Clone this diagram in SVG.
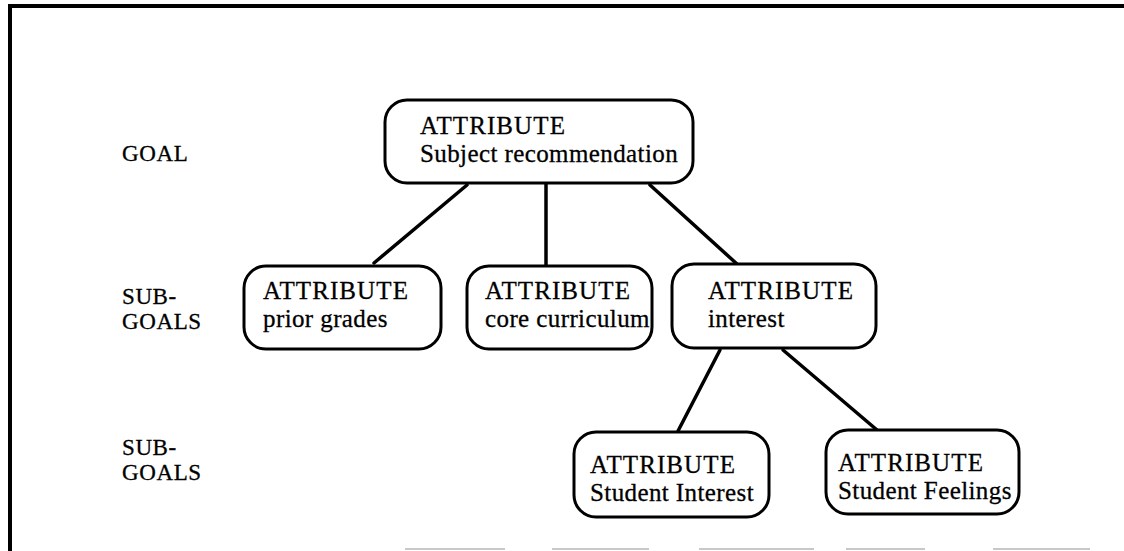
<svg xmlns="http://www.w3.org/2000/svg" width="1124" height="551" viewBox="0 0 1124 551">
<style>
.box{fill:#fff;stroke:#000;stroke-width:3}
.t{font-family:"Liberation Serif","Times New Roman",serif;font-size:25px;fill:#000;stroke:#000;stroke-width:0.3;letter-spacing:0.4px}
.a{letter-spacing:1.1px}
.lbl{font-family:"Liberation Serif","Times New Roman",serif;font-size:23px;fill:#000;stroke:#000;stroke-width:0.3;letter-spacing:0.6px}
.c{stroke:#000;stroke-width:3.5;fill:none;stroke-linecap:round}
.frame{stroke:#000;stroke-width:4;fill:none}
.faint{stroke:#c8c8c8;stroke-width:2;fill:none}
</style>
<rect width="1124" height="551" fill="#fff"/>
<g id="frame">
<path class="frame" d="M10,551 L10,6 L1124,6"/>
<path class="faint" d="M405,549 L505,549 M552,549 L649,549 M699,549 L814,549 M846,549 L925,549 M993,549 L1090,549"/>
</g>
<g id="level-labels">
<text class="lbl" x="122" y="161">GOAL</text>
<text class="lbl" x="122" y="304">SUB-</text>
<text class="lbl" x="122" y="329">GOALS</text>
<text class="lbl" x="122" y="455">SUB-</text>
<text class="lbl" x="122" y="480">GOALS</text>
</g>
<g id="connectors">
<line class="c" x1="467" y1="185" x2="374" y2="263"/>
<line class="c" x1="546" y1="184" x2="546" y2="266"/>
<line class="c" x1="650" y1="185" x2="737" y2="264"/>
<line class="c" x1="720" y1="350" x2="678" y2="431"/>
<line class="c" x1="783" y1="350" x2="877" y2="430"/>
</g>
<g id="goal">
<rect class="box" x="385" y="100" width="308" height="83" rx="22"/>
<text class="t a" x="420" y="134">ATTRIBUTE</text>
<text class="t" x="420" y="162">Subject recommendation</text>
</g>
<g id="prior-grades">
<rect class="box" x="244" y="266" width="197" height="83" rx="22"/>
<text class="t a" x="263" y="299">ATTRIBUTE</text>
<text class="t" x="263" y="327">prior grades</text>
</g>
<g id="core-curriculum">
<rect class="box" x="467" y="266" width="185" height="83" rx="22"/>
<text class="t a" x="485" y="299">ATTRIBUTE</text>
<text class="t" x="485" y="327">core curriculum</text>
</g>
<g id="interest">
<rect class="box" x="672" y="264" width="204" height="84" rx="22"/>
<text class="t a" x="708" y="299">ATTRIBUTE</text>
<text class="t" x="708" y="327">interest</text>
</g>
<g id="student-interest">
<rect class="box" x="574" y="432" width="195" height="85" rx="22"/>
<text class="t a" x="590" y="473">ATTRIBUTE</text>
<text class="t" x="590" y="501">Student Interest</text>
</g>
<g id="student-feelings">
<rect class="box" x="826" y="430" width="193" height="84" rx="22"/>
<text class="t a" x="838" y="471">ATTRIBUTE</text>
<text class="t" x="838" y="499">Student Feelings</text>
</g>
</svg>
